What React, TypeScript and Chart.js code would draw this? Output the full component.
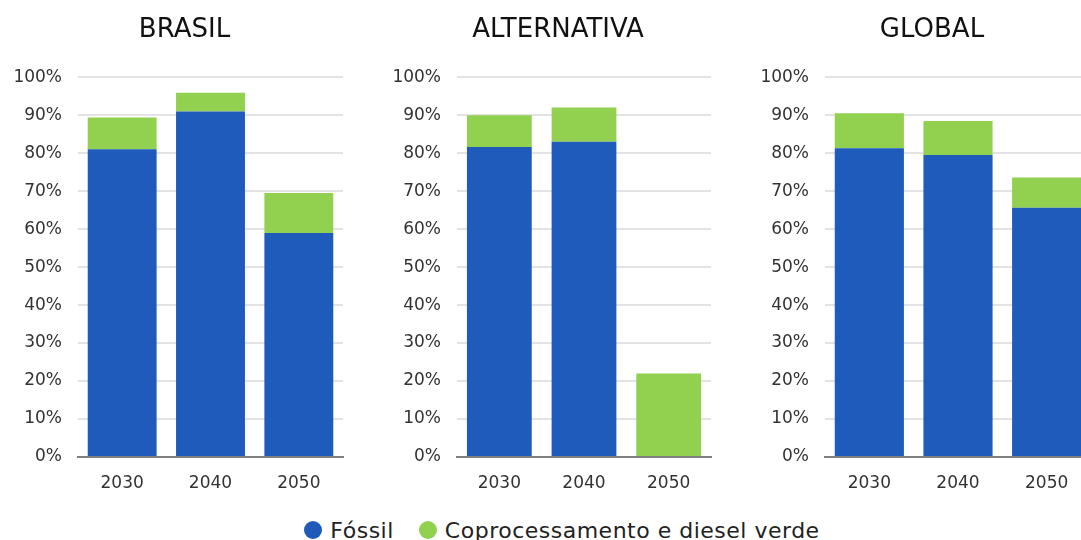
import React, { useEffect, useRef } from "react";
import { Chart, registerables } from "chart.js";

Chart.register(...registerables);

const years = ["2030", "2040", "2050"];
const yTickValues = [0, 10, 20, 30, 40, 50, 60, 70, 80, 90, 100];

const brasilFossil = [81, 91, 59];
const brasilVerde = [8.4, 4.9, 10.5];
const alternativaFossil = [81.6, 83, 0];
const alternativaVerde = [8.4, 9, 22];
const globalFossil = [81.3, 79.5, 65.6];
const globalVerde = [9.2, 9, 8];

const seriesNames = ["Fóssil", "Coprocessamento e diesel verde"];
const titles = ["BRASIL", "ALTERNATIVA", "GLOBAL"];

const BLUE = "#1e5bba";
const GREEN = "#92d050";
const FONT = "'DejaVu Sans', sans-serif";

const shiftTitle = {
  id: "shiftTitle",
  afterLayout(chart: any) {
    const t = chart.titleBlock;
    if (t) t.left += 26;
  },
};

type PanelProps = {
  title: string;
  fossil: number[];
  verde: number[];
  left: number;
  width: number;
  barPct: number;
};

function Panel({ title, fossil, verde, left, width, barPct }: PanelProps) {
  const ref = useRef<HTMLCanvasElement | null>(null);
  useEffect(() => {
    if (!ref.current) return;
    const chart = new Chart(ref.current, {
      type: "bar",
      data: {
        labels: years,
        datasets: [
          {
            label: seriesNames[0],
            data: fossil,
            backgroundColor: BLUE,
            barPercentage: barPct,
            categoryPercentage: 1,
          },
          {
            label: seriesNames[1],
            data: verde,
            backgroundColor: GREEN,
            barPercentage: barPct,
            categoryPercentage: 1,
          },
        ],
      },
      plugins: [shiftTitle],
      options: {
        animation: false,
        responsive: false,
        maintainAspectRatio: false,
        layout: { padding: { left: 0, right: 17, top: 0, bottom: 0 } },
        plugins: {
          legend: { display: false },
          tooltip: { enabled: false },
          title: {
            display: true,
            text: title,
            color: "#111111",
            font: { family: FONT, size: 26, weight: "500" as any },
            padding: { top: 15, bottom: 31 },
          },
        },
        scales: {
          x: {
            stacked: true,
            grid: { display: false },
            border: { color: "#7f7f7f", width: 2 },
            ticks: {
              color: "#333333",
              font: { family: FONT, size: 17 },
              padding: 8,
            },
            afterFit: (s: any) => {
              s.height = 43;
            },
          },
          y: {
            stacked: true,
            min: 0,
            max: 100,
            afterBuildTicks: (s: any) => {
              s.ticks = yTickValues.map((v) => ({ value: v }));
            },
            ticks: {
              color: "#333333",
              font: { family: FONT, size: 17 },
              padding: 16,
              callback: (v: any) => v + "%",
            },
            grid: { color: "#e3e3e3", lineWidth: 2, drawTicks: false },
            border: { display: false },
            afterFit: (s: any) => {
              s.width = 78;
            },
          },
        },
      },
    });
    return () => chart.destroy();
  }, []);
  return (
    <div style={{ position: "absolute", left, top: 0, width, height: 500 }}>
      <canvas ref={ref} width={width} height={500} style={{ width, height: 500, display: "block" }} />
    </div>
  );
}

export default function App() {
  const dot = (c: string) => (
    <span
      style={{
        display: "inline-block",
        width: 18,
        height: 18,
        borderRadius: "50%",
        background: c,
        marginRight: 8,
      }}
    />
  );
  return (
    <div
      style={{
        position: "absolute",
        left: 0,
        top: 0,
        width: 1081,
        height: 540,
        overflow: "hidden",
        background: "#ffffff",
      }}
    >
      <Panel title={titles[0]} fossil={brasilFossil} verde={brasilVerde} left={0} width={360} barPct={0.78} />
      <Panel title={titles[1]} fossil={alternativaFossil} verde={alternativaVerde} left={379} width={349} barPct={0.765} />
      <Panel title={titles[2]} fossil={globalFossil} verde={globalVerde} left={747} width={361} barPct={0.78} />
      <div
        style={{
          position: "absolute",
          left: 0,
          top: 516,
          width: 1124,
          height: 28,
          display: "flex",
          justifyContent: "center",
          alignItems: "center",
          fontFamily: FONT,
          fontSize: 22,
          letterSpacing: "0.5px",
          color: "#222222",
          whiteSpace: "nowrap",
        }}
      >
        <span style={{ display: "flex", alignItems: "center", marginRight: 25 }}>
          {dot(BLUE)}
          {seriesNames[0]}
        </span>
        <span style={{ display: "flex", alignItems: "center" }}>
          {dot(GREEN)}
          {seriesNames[1]}
        </span>
      </div>
    </div>
  );
}
